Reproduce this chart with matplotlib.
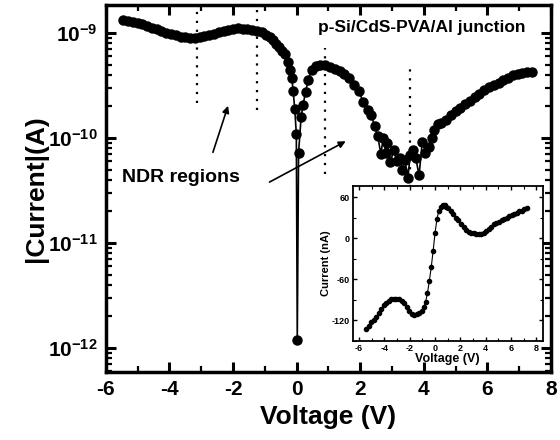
import matplotlib
matplotlib.use('Agg')
import matplotlib.pyplot as plt
from matplotlib.ticker import MultipleLocator, FixedLocator, FixedFormatter, LogLocator, NullFormatter

plt.rcParams['font.family'] = ['Liberation Sans', 'DejaVu Sans']
plt.rcParams['font.weight'] = 'bold'
plt.rcParams['axes.unicode_minus'] = False
plt.rcParams['mathtext.fontset'] = 'custom'
plt.rcParams['mathtext.rm'] = 'Liberation Sans:bold'
plt.rcParams['mathtext.it'] = 'Liberation Sans:bold'
plt.rcParams['mathtext.bf'] = 'Liberation Sans:bold'
plt.rcParams['mathtext.default'] = 'rm'

# main |I|-V curve (log scale), voltage in V, current in A
volt = [-5.45, -5.30, -5.15, -5.00, -4.85, -4.70, -4.55, -4.40, -4.25, -4.10,
        -3.95, -3.80, -3.65, -3.50, -3.35, -3.20, -3.05, -2.90, -2.75, -2.60,
        -2.45, -2.30, -2.15, -2.00, -1.85, -1.70, -1.55, -1.40, -1.25, -1.10,
        -0.95, -0.85, -0.75, -0.65, -0.55, -0.45, -0.36, -0.27, -0.20, -0.15,
        -0.11, -0.06, -0.01, 0.02, 0.06, 0.14, 0.20, 0.28, 0.36, 0.47,
        0.60, 0.75, 0.90, 1.05, 1.20, 1.35, 1.50, 1.65, 1.80, 1.95,
        2.10, 2.25, 2.35, 2.45, 2.55, 2.65, 2.72, 2.80, 2.85, 2.95,
        3.05, 3.15, 3.25, 3.32, 3.40, 3.50, 3.57, 3.67, 3.75, 3.85,
        3.95, 4.05, 4.15, 4.25, 4.32, 4.45, 4.55, 4.70, 4.85, 5.00,
        5.15, 5.30, 5.45, 5.60, 5.75, 5.90, 6.05, 6.20, 6.35, 6.50,
        6.65, 6.80, 6.95, 7.10, 7.25, 7.40]
current = [1.33e-9, 1.30e-9, 1.27e-9, 1.24e-9, 1.21e-9, 1.17e-9, 1.13e-9, 1.09e-9, 1.05e-9, 1.01e-9,
           0.98e-9, 0.95e-9, 0.92e-9, 0.91e-9, 0.90e-9, 0.90e-9, 0.91e-9, 0.93e-9, 0.96e-9, 0.99e-9,
           1.02e-9, 1.05e-9, 1.08e-9, 1.10e-9, 1.11e-9, 1.10e-9, 1.09e-9, 1.07e-9, 1.05e-9, 1.02e-9,
           0.97e-9, 0.92e-9, 0.86e-9, 0.79e-9, 0.73e-9, 0.68e-9, 0.63e-9, 0.53e-9, 0.45e-9, 0.37e-9,
           0.28e-9, 0.19e-9, 0.11e-9, 1.2e-12, 7.2e-11, 1.58e-10, 2.06e-10, 2.74e-10, 3.57e-10, 4.45e-10,
           4.85e-10, 5.0e-10, 4.95e-10, 4.8e-10, 4.6e-10, 4.35e-10, 4.05e-10, 3.7e-10, 3.2e-10, 2.8e-10,
           2.2e-10, 1.85e-10, 1.65e-10, 1.3e-10, 1.05e-10, 7.0e-11, 1.0e-10, 7.2e-11, 9.0e-11, 5.9e-11,
           7.7e-11, 6.0e-11, 6.5e-11, 5.0e-11, 6.2e-11, 4.2e-11, 6.9e-11, 7.7e-11, 6.4e-11, 4.4e-11,
           9.2e-11, 7.2e-11, 8.2e-11, 1.0e-10, 1.19e-10, 1.35e-10, 1.4e-10, 1.5e-10, 1.65e-10, 1.8e-10,
           1.95e-10, 2.1e-10, 2.25e-10, 2.45e-10, 2.65e-10, 2.85e-10, 3.05e-10, 3.2e-10, 3.35e-10, 3.55e-10,
           3.75e-10, 3.95e-10, 4.05e-10, 4.15e-10, 4.25e-10, 4.3e-10]

# inset I-V curve (linear), current in nA
volt_in = [-5.45, -5.25, -5.05, -4.85, -4.65, -4.45, -4.25, -4.05, -3.85, -3.65,
           -3.45, -3.25, -3.05, -2.85, -2.65, -2.45, -2.25, -2.05, -1.85, -1.65,
           -1.45, -1.25, -1.05, -0.90, -0.75, -0.60, -0.45, -0.30, -0.15, 0.00,
           0.15, 0.30, 0.45, 0.60, 0.75, 0.90, 1.05, 1.25, 1.45, 1.65,
           1.85, 2.05, 2.25, 2.45, 2.65, 2.85, 3.05, 3.25, 3.45, 3.65,
           3.85, 4.05, 4.25, 4.45, 4.65, 4.85, 5.05, 5.25, 5.45, 5.65,
           5.85, 6.05, 6.25, 6.45, 6.65, 6.85, 7.05, 7.25]
current_in = [-132, -128, -123, -119, -115, -109, -103, -98, -94, -91,
              -89, -88, -88, -89, -91, -95, -100, -106, -110, -112,
              -111, -109, -106, -101, -93, -80, -62, -42, -18, 8,
              28, 40, 46, 48, 48, 46, 44, 40, 35, 30,
              26, 21, 16, 12, 9, 8, 7, 6, 6, 6,
              8, 11, 14, 17, 20, 22, 24, 26, 28, 30,
              32, 34, 36, 37, 39, 40, 42, 44]

# NDR guide lines: voltage, top and bottom current
ndr_v = [-3.13, -1.24, 0.9, 3.57]
ndr_top = [1.75e-9, 1.75e-9, 7.2e-10, 5.2e-10]
ndr_bot = [2.15e-10, 1.85e-10, 4.5e-11, 2.8e-11]

yticks = [1e-12, 1e-11, 1e-10, 1e-9]
ylabels = [r'$10^{-12}$', r'$10^{-11}$', r'$10^{-10}$', r'$10^{-9}$']

fig = plt.figure(figsize=(5.6, 4.4), dpi=100)
ax = fig.add_axes([0.189, 0.1545, 0.795, 0.8345])

ax.plot(volt, current, color='black', marker='o', markersize=6.5, linewidth=1.2)
for v, t, b in zip(ndr_v, ndr_top, ndr_bot):
    ax.plot([v, v], [b, t], color='black', linewidth=1.6, linestyle=(0, (1, 3)))

ax.set_yscale('log')
ax.set_xlim(-6, 8)
ax.set_ylim(5.9e-13, 1.86e-9)
ax.xaxis.set_major_locator(MultipleLocator(2))
ax.xaxis.set_minor_locator(MultipleLocator(1))
ax.yaxis.set_major_locator(FixedLocator(yticks))
ax.yaxis.set_major_formatter(FixedFormatter(ylabels))
ax.yaxis.set_minor_locator(LogLocator(base=10, subs=range(2, 10)))
ax.yaxis.set_minor_formatter(NullFormatter())
ax.tick_params(which='both', direction='in', top=True, right=True, labelsize=15)
ax.tick_params(which='major', length=7, width=2.2, pad=6)
ax.tick_params(which='minor', length=4, width=1.6)
for s in ax.spines.values():
    s.set_linewidth(2.5)

ax.set_xlabel('Voltage (V)', fontsize=19, fontweight='bold', labelpad=4)
ax.set_ylabel('|Current|(A)', fontsize=19, fontweight='bold', labelpad=0)

ax.text(0.476, 0.937, 'p-Si/CdS-PVA/Al junction', transform=ax.transAxes,
        fontsize=12.5, fontweight='bold', va='center')
ax.text(0.037, 0.53, 'NDR regions', transform=ax.transAxes,
        fontsize=14, fontweight='bold', va='center')
ax.annotate('', xy=(-2.13, 2.15e-10), xytext=(-2.66, 6.9e-11),
            arrowprops=dict(arrowstyle='-|>', color='black', lw=1.2, mutation_scale=10))
ax.annotate('', xy=(1.62, 9.6e-11), xytext=(-0.93, 3.7e-11),
            arrowprops=dict(arrowstyle='-|>', color='black', lw=1.2, mutation_scale=10))

# inset
axi = fig.add_axes([0.630, 0.225, 0.339, 0.352])
axi.plot(volt_in, current_in, color='black', marker='o', markersize=3, linewidth=0.8)
axi.set_xlim(-6.5, 8.5)
axi.set_ylim(-150, 76)
axi.xaxis.set_major_locator(MultipleLocator(2))
axi.xaxis.set_minor_locator(MultipleLocator(1))
axi.yaxis.set_major_locator(MultipleLocator(60))
axi.yaxis.set_minor_locator(MultipleLocator(30))
axi.tick_params(which='both', direction='in', top=True, right=True, labelsize=6.5)
axi.tick_params(which='major', length=3, width=1, pad=2)
axi.tick_params(which='minor', length=2, width=0.8)
for s in axi.spines.values():
    s.set_linewidth(1.3)
axi.set_xlabel('Voltage (V)', fontsize=9, fontweight='bold', labelpad=0)
axi.set_ylabel('Current (nA)', fontsize=8, fontweight='bold', labelpad=1)

fig.savefig('out.png', dpi=100)
